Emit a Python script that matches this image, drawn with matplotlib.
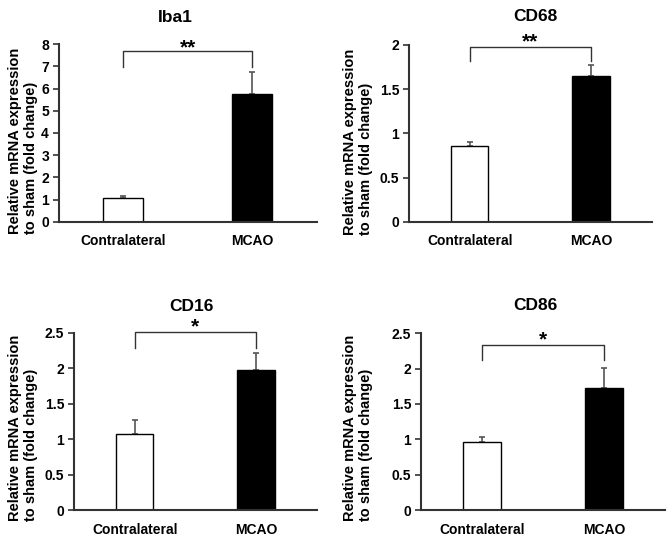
import matplotlib
matplotlib.use('Agg')
import matplotlib.pyplot as plt

plt.rcParams['font.family'] = ['Liberation Sans', 'DejaVu Sans']
plt.rcParams['font.weight'] = 'bold'

# Data
groups = ['Contralateral', 'MCAO']
titles = ['Iba1', 'CD68', 'CD16', 'CD86']
means = [[1.08, 5.77], [0.86, 1.645], [1.076, 1.97], [0.967, 1.72]]
errors = [[0.10, 1.00], [0.045, 0.13], [0.19, 0.25], [0.06, 0.29]]
ymax = [8, 2, 2.5, 2.5]
ystep = [1, 0.5, 0.5, 0.5]
stars = ['**', '**', '*', '*']
bracket_top = [7.69, 1.98, 2.505, 2.33]
bracket_leg = [6.98, 1.82, 2.29, 2.12]
star_y = [8.1, 2.10, 2.655, 2.49]   # visual centre of the asterisks

W, H = 669, 547
fig = plt.figure(figsize=(W / 100, H / 100), dpi=100)

# axes boxes in pixels: left, right, top, bottom
boxes = [(58.7, 316.7, 44.3, 221.7), (409, 651.7, 45, 221.7),
         (74, 316.7, 332.7, 510), (421, 665, 333.3, 510)]
title_pos = [(175.7, 17), (535, 16.7), (191.7, 306.7), (535, 305)]
label_x = [8, 343, 8, 343]
label_y = [140.5, 141.5, 428, 428]

for i in range(4):
    l, r, t, b = boxes[i]
    ax = fig.add_axes([l / W, 1 - b / H, (r - l) / W, (b - t) / H])
    ax.bar([0, 1], means[i], width=0.31, color=['white', 'black'],
           edgecolor='black', linewidth=1.0, zorder=2)
    ax.errorbar([0, 1], means[i], yerr=[[0, 0], errors[i]], fmt='none',
                ecolor='#555555', elinewidth=1.2, capsize=2.3, capthick=1.2, zorder=1)
    ax.set_xlim(-0.5, 1.5)
    ax.set_ylim(0, ymax[i])
    n = int(round(ymax[i] / ystep[i]))
    ticks = [k * ystep[i] for k in range(n + 1)]
    ax.set_yticks(ticks)
    ax.set_yticklabels(['%g' % v for v in ticks])
    ax.set_xticks([0, 1])
    ax.set_xticklabels(groups)
    ax.tick_params(axis='x', length=0, pad=9, labelsize=10)
    ax.tick_params(axis='y', length=4, width=1.2, color='#333333', pad=3, labelsize=10)
    for s in ['top', 'right']:
        ax.spines[s].set_visible(False)
    for s in ['left', 'bottom']:
        ax.spines[s].set_color('#333333')
        ax.spines[s].set_linewidth(1.5)
    # significance bracket
    ax.plot([0, 0, 1, 1], [bracket_leg[i], bracket_top[i], bracket_top[i], bracket_leg[i]],
            color='#333333', linewidth=1.0, clip_on=False)
    ax.annotate(stars[i], (0.5, star_y[i]), xytext=(0, -8), textcoords='offset points',
                ha='center', va='baseline', fontsize=15, fontweight='bold',
                annotation_clip=False)
    fig.text(title_pos[i][0] / W, 1 - title_pos[i][1] / H, titles[i], ha='center',
             va='center', fontsize=12.5, fontweight='bold')
    fig.text(label_x[i] / W, 1 - label_y[i] / H,
             'Relative mRNA expression\nto sham (fold change)', rotation=90,
             ha='left', va='center', fontsize=10.5, fontweight='bold', linespacing=1.15)

fig.savefig('out.png', dpi=100)
